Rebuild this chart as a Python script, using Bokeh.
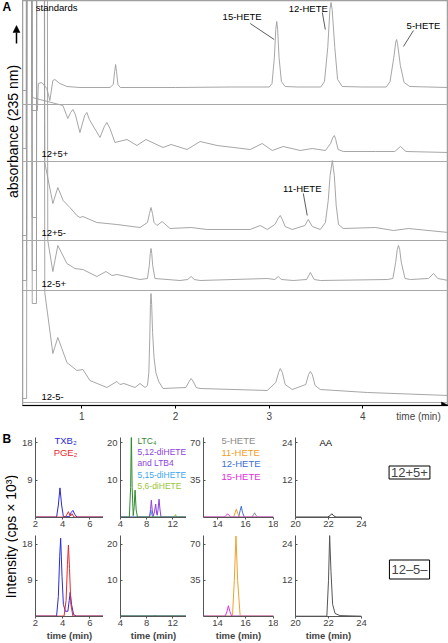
import math
from bokeh.plotting import figure
from bokeh.models import Range1d, Span, Label, Arrow, NormalHead, FixedTicker, LinearAxis
from bokeh.layouts import row, column
from bokeh.embed import file_html
from bokeh.resources import INLINE

FONT = "Liberation Sans"
TOP = 1000  # solvent-front spikes run off the top of the plot

# ---------------- Panel A data: time (min) vs absorbance above each trace's baseline ----------------
std_t = [0.366, 0.41, 0.42, 0.455, 0.465, 0.525, 0.535, 0.572, 0.626, 0.658, 0.69, 0.711, 0.765, 0.84, 0.98,
         1.30, 1.335, 1.35, 1.36, 1.37, 1.385, 1.41, 2.0, 2.6, 3.00, 3.03, 3.055, 3.07, 3.08, 3.09, 3.105, 3.13,
         3.17, 3.3, 3.55, 3.59, 3.625, 3.648, 3.66, 3.672, 3.70, 3.73, 3.78, 4.0, 4.25, 4.29, 4.33, 4.352, 4.36,
         4.37, 4.40, 4.44, 4.50, 4.7, 4.914]
std_h = [-3, -3, TOP, TOP, -23, -23, 4, 5, -1, -13, 7, 8, 4, 1, 0,
         0, 3, 16, 23, 16, 3, 0, 0, 0.5, 0.5, 4, 30, 58, 66, 58, 30, 6,
         1, 0.5, 0.5, 6, 40, 78, 85, 78, 40, 8, 1, 0.5, 0.5, 6, 30, 46, 48,
         44, 22, 5, 1, 0.5, 0]

s1_t = [0.366, 0.405, 0.415, 0.46, 0.47, 0.797, 0.85, 0.88, 0.904, 0.93, 0.979, 1.03, 1.053, 1.08, 1.193,
        1.24, 1.267, 1.30, 1.353, 1.481, 1.588, 1.684, 1.866, 1.952, 2.123, 2.262, 2.444, 2.797, 2.925, 3.032,
        3.150, 3.332, 3.460, 3.60, 3.655, 3.68, 3.695, 3.71, 3.735, 3.791, 4.134, 4.34, 4.401, 4.46, 4.914]
s1_h = [4, 4, TOP, TOP, 55, 47, 34, 40, 43, 38, 20, 37, 40, 33, 15,
        26, 30, 24, 10, 13, 7, 13, 5, 8, 3, 11, 7, 3, 9, 2,
        6, 2, 4, 2, 9, 15, 17, 13, 3, 1, 1, 1, 6, 1, 0]

s2_t = [0.366, 0.41, 0.418, 0.45, 0.47, 0.515, 0.522, 0.59, 0.604, 0.69, 0.743, 0.80, 0.872, 0.947, 0.979,
        1.011, 1.16, 1.374, 1.62, 1.70, 1.722, 1.738, 1.754, 1.77, 1.802, 1.856, 1.941, 2.166, 2.337, 2.797,
        2.904, 2.979, 3.06, 3.095, 3.118, 3.14, 3.17, 3.246, 3.38, 3.417, 3.46, 3.545, 3.60, 3.63, 3.65, 3.674,
        3.695, 3.715, 3.74, 3.791, 4.134, 4.326, 4.487, 4.914]
s2_h = [-5, -5, TOP, TOP, 13, 13, TOP, TOP, 68, 27, 43, 30, 23, 15, 13,
        14, 8, 6, 3, 8, 17, 23, 17, 8, 5, 9, 2, 3, 1, 1,
        5, 1, 6, 12, 15, 11, 4, 1, 5, 11, 4, 1, 8, 30, 55, 70,
        55, 25, 6, 2, 3, 0, 2, -2]

s3_t = [0.366, 0.41, 0.418, 0.455, 0.47, 0.515, 0.522, 0.62, 0.636, 0.69, 0.743, 0.84, 0.925, 1.011, 1.16,
        1.257, 1.321, 1.374, 1.62, 1.70, 1.72, 1.73, 1.738, 1.746, 1.756, 1.78, 2.048, 2.13, 2.166, 2.2,
        2.262, 2.979, 3.06, 3.096, 3.13, 3.257, 3.40, 3.439, 3.48, 3.545, 4.262, 4.32, 4.35, 4.367, 4.38,
        4.393, 4.41, 4.45, 4.508, 4.70, 4.754, 4.80, 4.914]
s3_h = [0, 0, TOP, TOP, 10, 10, TOP, TOP, 40, 9, 35, 17, 12, 11, 4,
        9, 5, 6, 1, 2, 15, 27, 32, 27, 15, 2, 0, 1, 4, 1,
        0, 2, 1, 4, 1, 0, 1, 8, 1, 0, 1, 2, 18, 31, 35,
        31, 18, 2, 1, 2, 7, 2, 0]

s4_t = [0.366, 0.41, 0.418, 0.455, 0.47, 0.515, 0.522, 0.59, 0.604, 0.69, 0.743, 0.786, 0.84, 0.947, 1.011,
        1.086, 1.267, 1.374, 1.406, 1.449, 1.567, 1.62, 1.674, 1.70, 1.715, 1.725, 1.732, 1.738, 1.745, 1.755,
        1.77, 1.79, 1.82, 1.866, 2.11, 2.145, 2.166, 2.19, 2.22, 2.262, 2.979, 3.07, 3.10, 3.118, 3.14, 3.17,
        3.246, 3.39, 3.42, 3.439, 3.46, 3.49, 3.545, 4.048, 4.914]
s4_h = [-6, -6, TOP, TOP, 89, 89, TOP, TOP, 100, 39, 55, 44, 30, 22, 23,
        12, 5, 11, 8, 9, 5, 9, 5, 7, 20, 55, 88, 99, 88, 60,
        35, 20, 11, 4, 5, 11, 14, 11, 5, 4, 2, 10, 20, 24, 20, 8,
        3, 8, 18, 21, 18, 7, 3, 0, -3]

trace_names = ["standards", "12+5+", "12+5-", "12-5+", "12-5-"]
time_ticks = [1, 2, 3, 4]

# ---------------- Panel B data: time (min) vs intensity (cps x 10^3) ----------------
# row 1 = 12+5+, row 2 = 12-5-
txb2_r1_t = [2.0, 3.55, 3.68, 3.8, 3.92, 4.05, 4.5, 4.62, 4.75, 4.88, 5.05, 7.0]
txb2_r1_i = [0.1, 0.1, 3.0, 7.1, 3.0, 0.2, 0.2, 1.2, 1.7, 0.8, 0.1, 0.1]
pge2_r1_t = [2.0, 4.2, 4.32, 4.42, 4.52, 4.6, 4.7, 4.82, 7.0]
pge2_r1_i = [0.1, 0.1, 0.8, 1.4, 0.6, 0.4, 0.9, 0.1, 0.1]
txb2_r2_t = [2.0, 3.55, 3.68, 3.78, 3.85, 3.95, 4.05, 4.2, 4.38, 4.48, 4.55, 4.65, 4.8, 5.0, 7.0]
txb2_r2_i = [0.1, 0.1, 5.0, 15.0, 19.5, 10.0, 3.0, 1.3, 1.3, 4.0, 6.0, 3.0, 0.5, 0.1, 0.1]
pge2_r2_t = [2.0, 4.1, 4.25, 4.35, 4.42, 4.5, 4.6, 4.75, 7.0]
pge2_r2_i = [0.1, 0.1, 4.0, 13.0, 17.8, 12.0, 3.0, 0.1, 0.1]

ltc4_r1_t = [4, 5.35, 5.55, 5.66, 5.78, 5.95, 6.1, 6.23, 6.4, 6.6, 14]
ltc4_r1_i = [0.1, 0.1, 8, 23, 8, 0.5, 3, 7.3, 2, 0.1, 0.1]
d512_r1_t = [4, 8.45, 8.6, 8.72, 8.85, 9.0, 9.2, 9.38, 9.52, 9.62, 9.75, 9.9, 10.05, 10.2, 14]
d512_r1_i = [0.1, 0.1, 2.2, 4.6, 2.0, 0.3, 1.5, 3.6, 1.2, 0.6, 2.2, 4.9, 2.0, 0.1, 0.1]
d515_r1_t = [4, 8.4, 8.55, 8.65, 8.78, 8.95, 14]
d515_r1_i = [0.1, 0.1, 1.0, 2.0, 0.8, 0.1, 0.1]
d56_r1_t = [4, 12.1, 12.3, 12.42, 12.55, 12.75, 14]
d56_r1_i = [0.1, 0.1, 0.4, 0.8, 0.3, 0.1, 0.1]
ltc4_r2_t = [4, 9.2, 9.3, 9.4, 14]
ltc4_r2_i = [0.1, 0.1, 0.3, 0.1, 0.1]
d512_r2_t = [4, 14]
d512_r2_i = [0.1, 0.1]
d515_r2_t = [4, 14]
d515_r2_i = [0.08, 0.08]
d56_r2_t = [4, 14]
d56_r2_i = [0.12, 0.12]

h5_r1_t = [13, 16.45, 16.57, 16.65, 16.74, 16.88, 18]
h5_r1_i = [0.2, 0.2, 2.5, 4.4, 2.0, 0.2, 0.2]
h12_r1_t = [13, 15.5, 15.62, 15.7, 15.78, 15.92, 18]
h12_r1_i = [0.2, 0.2, 6.5, 10.5, 5.0, 0.2, 0.2]
h11_r1_t = [13, 15.15, 15.27, 15.35, 15.44, 15.58, 18]
h11_r1_i = [0.2, 0.2, 5.0, 8.0, 4.0, 0.2, 0.2]
h15_r1_t = [13, 14.5, 14.62, 14.72, 14.82, 14.95, 18]
h15_r1_i = [0.4, 0.4, 2.0, 3.5, 2.0, 0.4, 0.4]
h5_r2_t = [13, 18]
h5_r2_i = [0.2, 0.2]
h12_r2_t = [13, 18]
h12_r2_i = [0.2, 0.2]
h11_r2_t = [13, 15.07, 15.2, 15.32, 15.44, 15.62, 18]
h11_r2_i = [0.3, 0.3, 35, 78, 35, 0.3, 0.3]
h15_r2_t = [13, 14.55, 14.68, 14.78, 14.88, 15.02, 18]
h15_r2_i = [0.3, 0.3, 5.0, 10.4, 5.0, 0.3, 0.3]

aa_r1_t = [20, 21.95, 22.1, 22.2, 22.3, 22.45, 24]
aa_r1_i = [0.15, 0.15, 0.6, 1.2, 0.6, 0.15, 0.15]
aa_r2_t = [20, 21.9, 22.0, 22.07, 22.15, 22.25, 22.4, 22.7, 24]
aa_r2_i = [0.1, 0.1, 12, 27, 15, 4, 1, 0.3, 0.1]


def lab(p, x, y, text, size="9.5px", align="left", color="black", xu="data", yu="data", style="normal",
        angle=0.0, baseline="middle"):
    p.add_layout(Label(x=x, y=y, x_units=xu, y_units=yu, text=text, text_font=FONT, text_font_size=size,
                       text_align=align, text_baseline=baseline, text_color=color, text_font_style=style,
                       angle=angle))


def blank(w, h, top=0, bottom=0):
    # borders match the neighbouring plots so that the frame sits where the layout aligns it
    p = figure(width=w, height=h, x_range=Range1d(0, 1), y_range=Range1d(0, 1), output_backend="svg",
               toolbar_location=None, x_axis_location=None, y_axis_location=None,
               min_border_left=0, min_border_right=0, min_border_top=top, min_border_bottom=bottom)
    p.outline_line_color = None
    p.grid.visible = False
    return p


# ---------------- Panel A ----------------
TRACE_COLOR = "#9c9c9c"
HA = 430
BA = 25
pa = figure(width=426, height=HA, x_range=Range1d(0.366, 4.914), y_range=Range1d(-3, 402),
            output_backend="svg", toolbar_location=None, y_axis_location=None,
            min_border_left=0, min_border_right=0, min_border_top=0, min_border_bottom=BA)
pa.grid.visible = False
pa.outline_line_color = "#a0a0a0"
pa.outline_line_width = 1.5
for yb in [298, 241, 162, 112, 0]:
    pa.add_layout(Span(location=yb, dimension="width", line_color="#a8a8a8", line_width=1.2))

bases = [315, 250, 172, 122, 10]
for (tt, hh), b in zip([(std_t, std_h), (s1_t, s1_h), (s2_t, s2_h), (s3_t, s3_h), (s4_t, s4_h)], bases):
    pa.line(tt, [b + v for v in hh], line_color=TRACE_COLOR, line_width=0.9)

# axis 1: arrow line with tick marks (no labels)
ax = pa.xaxis[0]
ax.ticker = FixedTicker(ticks=time_ticks)
ax.axis_line_color = "black"
ax.axis_line_width = 1
ax.major_tick_out = 3
ax.major_tick_in = 0
ax.minor_tick_line_color = None
ax.major_label_text_color = None
ax.major_label_standoff = 0

# axis 2 just below: tick labels plus the "time (min)" caption
ax2 = LinearAxis(ticker=FixedTicker(ticks=time_ticks + [4.594]),
                 major_label_overrides={4.594: "time (min)"},
                 axis_line_color=None, major_tick_line_color=None, minor_tick_line_color=None,
                 major_tick_out=0, major_tick_in=0,
                 major_label_text_font=FONT, major_label_text_font_size="10px", major_label_standoff=2)
pa.add_layout(ax2, "below")

pa.add_layout(Arrow(end=NormalHead(size=7, fill_color="black", line_color="black", line_width=0.5),
                    x_start=4.80, y_start=-3, x_end=4.914, y_end=-3, line_color="black", line_width=1))

lab(pa, 0.508, 395, "standards")
lab(pa, 0.568, 249, trace_names[1])
lab(pa, 0.568, 170, trace_names[2])
lab(pa, 0.568, 119, trace_names[3])
lab(pa, 0.568, 6, trace_names[4])
lab(pa, 2.711, 386, "15-HETE", align="center")
lab(pa, 3.417, 394, "12-HETE", align="center")
lab(pa, 4.647, 377, "5-HETE", align="center")
lab(pa, 3.353, 214, "11-HETE", align="center")
pa.segment(x0=[2.797, 3.567, 4.540, 3.364], y0=[379, 390, 372, 209],
           x1=[3.053, 3.599, 4.433, 3.406], y1=[363, 373, 356, 187], line_color="#333333", line_width=0.8)

# left strip of panel A: frame spans 405 px (same as pa's frame)
FA = HA - BA
alab = blank(22, HA, 0, BA)
lab(alab, 2, FA - 6, "A", size="12px", xu="screen", yu="screen", style="bold")
alab.add_layout(Arrow(end=NormalHead(size=7, fill_color="black", line_color="black", line_width=0.5),
                      x_start=16, y_start=FA - 43, x_end=16, y_end=FA - 25, start_units="screen",
                      end_units="screen", line_color="black", line_width=1.5))
lab(alab, 12, FA - 131, "absorbance (235 nm)", size="14px", align="center", xu="screen", yu="screen",
    angle=math.pi / 2)

# ---------------- Panel B ----------------
C_TXB = "#2b2bd6"; C_PGE = "#e8282e"; C_LTC = "#2e8b2e"; C_512 = "#8e3fe0"; C_515 = "#3aa8f0"
C_56 = "#9ac63a"; C_5 = "#8c8c8c"; C_11 = "#f2a02a"; C_12 = "#3d6fd6"; C_15 = "#e030e0"; C_AA = "#333333"


def small(xr, ymax, xticks, yticks, L, W, R, H, top, bottom, xlabel):
    p = figure(width=L + W + R, height=H, x_range=Range1d(*xr), y_range=Range1d(0, ymax),
               output_backend="svg", toolbar_location=None,
               min_border_left=L, min_border_right=R, min_border_top=top, min_border_bottom=bottom)
    p.grid.visible = False
    p.outline_line_color = None
    for a in p.axis:
        a.axis_line_color = "#555555"
        a.major_tick_line_color = "#555555"
        a.minor_tick_line_color = None
        a.major_label_text_font = FONT
        a.major_label_text_font_size = "9.5px"
    p.xaxis.ticker = FixedTicker(ticks=xticks)
    p.yaxis.ticker = FixedTicker(ticks=yticks)
    p.xaxis.major_tick_out = 2
    p.xaxis.major_tick_in = 0
    p.xaxis.major_label_standoff = 1
    p.yaxis.major_tick_out = 0
    p.yaxis.major_tick_in = 2
    p.yaxis.major_label_standoff = 3
    if xlabel:
        p.xaxis.axis_label = "time (min)"
        p.xaxis.axis_label_text_font = FONT
        p.xaxis.axis_label_text_font_size = "9.5px"
        p.xaxis.axis_label_text_font_style = "bold"
        p.xaxis.axis_label_standoff = 1
    return p


H1, T1, B1 = 103, 7, 16
H2, T2, B2 = 110, 2, 25
cols = [dict(xr=(2, 7), top=18, xt=[2, 4, 6], L=12, W=73, R=0),
        dict(xr=(4, 14.1), top=20, xt=[4, 8, 12], L=11, W=72, R=0),
        dict(xr=(13, 18), top=70, xt=[14, 16, 18], L=14, W=73, R=5),
        dict(xr=(20, 24), top=24, xt=[20, 22, 24], L=13, W=70, R=6)]

figs = []
for r, (H, T, Bt, fac) in enumerate([(H1, T1, B1, 80 / 75), (H2, T2, B2, 83 / 74)]):
    rowfigs = []
    for c in cols:
        rowfigs.append(small(c["xr"], c["top"] * fac, c["xt"], [c["top"] / 2, c["top"]],
                             c["L"], c["W"], c["R"], H, T, Bt, r == 1))
    figs.append(rowfigs)


def tr(p, t, i, color):
    p.line(t, i, line_color=color, line_width=1)


# column 1
tr(figs[0][0], txb2_r1_t, txb2_r1_i, C_TXB); tr(figs[0][0], pge2_r1_t, pge2_r1_i, C_PGE)
tr(figs[1][0], txb2_r2_t, txb2_r2_i, C_TXB); tr(figs[1][0], pge2_r2_t, pge2_r2_i, C_PGE)
# column 2
for (t, i, col) in [(d56_r1_t, d56_r1_i, C_56), (d515_r1_t, d515_r1_i, C_515), (d512_r1_t, d512_r1_i, C_512),
                    (ltc4_r1_t, ltc4_r1_i, C_LTC)]:
    tr(figs[0][1], t, i, col)
for (t, i, col) in [(d56_r2_t, d56_r2_i, C_56), (d515_r2_t, d515_r2_i, C_515), (d512_r2_t, d512_r2_i, C_512),
                    (ltc4_r2_t, ltc4_r2_i, C_LTC)]:
    tr(figs[1][1], t, i, col)
# column 3
for (t, i, col) in [(h5_r1_t, h5_r1_i, C_5), (h12_r1_t, h12_r1_i, C_12), (h11_r1_t, h11_r1_i, C_11),
                    (h15_r1_t, h15_r1_i, C_15)]:
    tr(figs[0][2], t, i, col)
for (t, i, col) in [(h5_r2_t, h5_r2_i, C_5), (h12_r2_t, h12_r2_i, C_12), (h11_r2_t, h11_r2_i, C_11),
                    (h15_r2_t, h15_r2_i, C_15)]:
    tr(figs[1][2], t, i, col)
# column 4
tr(figs[0][3], aa_r1_t, aa_r1_i, C_AA)
tr(figs[1][3], aa_r2_t, aa_r2_i, "#555555")

# legends (row 1)
f = figs[0][0]
lab(f, 30, 77, "TXB₂", size="9.5px", align="center", color=C_TXB, xu="screen", yu="screen")
lab(f, 30, 65, "PGE₂", size="9.5px", align="center", color=C_PGE, xu="screen", yu="screen")
f = figs[0][1]
for yy, txt, col in [(77, "LTC₄", C_LTC), (66, "5,12-diHETE", C_512), (55, "and LTB4", C_512),
                     (43, "5,15-diHETE", C_515), (32, "5,6-diHETE", C_56)]:
    lab(f, 17, yy, txt, size="8.5px", color=col, xu="screen", yu="screen")
f = figs[0][2]
for yy, txt, col in [(77, "5-HETE", C_5), (65, "11-HETE", C_11), (54, "12-HETE", C_12), (41, "15-HETE", C_15)]:
    lab(f, 18, yy, txt, size="9.5px", color=col, xu="screen", yu="screen")
lab(figs[0][3], 24, 75, "AA", size="9.5px", xu="screen", yu="screen")

# boxed sample labels; their frames match the row's frames (row 1: 80 px, row 2: 83 px)
box1 = blank(81, H1, T1, B1)
box2 = blank(81, H2, T2, B2)
for bx, yy, txt in [(box1, 45, "12+5+"), (box2, 47, "12–5–")]:
    bx.add_layout(Label(x=42, y=yy, x_units="screen", y_units="screen", text=txt, text_font=FONT,
                        text_font_size="13px", text_align="center", text_baseline="middle",
                        border_line_color="black", border_line_width=1, background_fill_color="white",
                        padding=2))

labfig = blank(18, H1 + H2)
lab(labfig, 2, H1 + H2 - 8, "B", size="12px", xu="screen", yu="screen", style="bold")
lab(labfig, 10, 107, "Intensity (cps × 10³)", size="14px", align="center", xu="screen", yu="screen",
    angle=math.pi / 2)

apanel = row(alab, pa)
bpanel = row(labfig, column(row(*figs[0], box1), row(*figs[1], box2)))
layout = column(apanel, bpanel)

open("out.html", "w").write(file_html(layout, INLINE))
